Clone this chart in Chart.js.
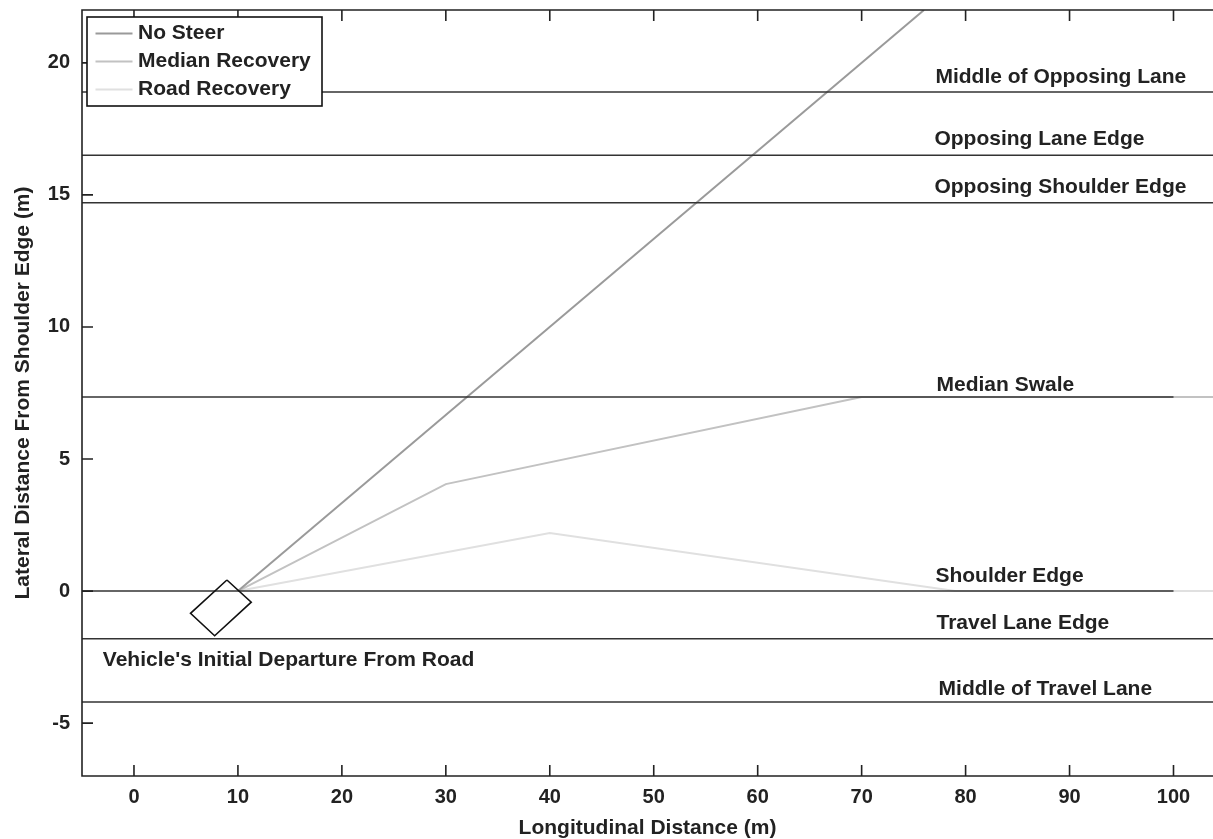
<!DOCTYPE html>
<html lang="en">
  <head>
    <meta charset="UTF-8" />
    <script src="https://cdn.jsdelivr.net/npm/chart.js"></script>
    <style>
      body {
        margin: 0;
        background: #fff;
      }
      #wrap {
        width: 1213px;
        height: 839px;
      }
    </style>
  </head>
  <body>
    <div id="wrap"><canvas id="roadChart" width="1213" height="839"></canvas></div>

    <script>
      // trajectories (m)
      const noSteerX = [10, 76];
      const noSteerY = [0, 22];
      const medianX = [10, 30, 70, 105];
      const medianY = [0, 4.05, 7.35, 7.35];
      const roadX = [10, 40, 79, 105];
      const roadY = [0, 2.2, 0, 0];

      // vehicle outline at departure
      const vehicleX = [8.94, 11.28, 7.76, 5.44, 8.94];
      const vehicleY = [0.42, -0.42, -1.69, -0.84, 0.42];

      // road reference lines
      const refNames = [
        "Middle of Opposing Lane",
        "Opposing Lane Edge",
        "Opposing Shoulder Edge",
        "Median Swale",
        "Shoulder Edge",
        "Travel Lane Edge",
        "Middle of Travel Lane",
      ];
      const refLevels = [18.9, 16.5, 14.7, 7.35, 0, -1.8, -4.2];
      const refEnds = [105, 105, 105, 100, 100, 105, 105];
      const refLabelX = [77.1, 77.0, 77.0, 77.2, 77.1, 77.2, 77.4];
      const refLabelY = [19.47, 17.12, 15.3, 7.8, 0.57, -1.21, -3.71];

      const noteText = "Vehicle's Initial Departure From Road";
      const noteX = -3.0;
      const noteY = -2.61;

      const xTicks = [0, 10, 20, 30, 40, 50, 60, 70, 80, 90, 100];
      const yTicks = [-5, 0, 5, 10, 15, 20];

      const FONT = "'Liberation Sans', Arial, Helvetica, sans-serif";
      const INK = "#222";

      const pts = (xs, ys) => xs.map((x, i) => ({ x: x, y: ys[i] }));

      const datasets = [];
      refLevels.forEach((lvl, i) => {
        datasets.push({
          label: refNames[i],
          data: [
            { x: -5, y: lvl },
            { x: refEnds[i], y: lvl },
          ],
          borderColor: "#333",
          borderWidth: 1.5,
          order: 1,
        });
      });
      datasets.push(
        {
          label: "No Steer",
          data: pts(noSteerX, noSteerY),
          borderColor: "#9a9a9a",
          borderWidth: 2,
          order: 2,
          legend: true,
        },
        {
          label: "Median Recovery",
          data: pts(medianX, medianY),
          borderColor: "#c2c2c2",
          borderWidth: 2,
          order: 2,
          legend: true,
        },
        {
          label: "Road Recovery",
          data: pts(roadX, roadY),
          borderColor: "#e0e0e0",
          borderWidth: 2,
          order: 2,
          legend: true,
        },
        {
          label: "Vehicle",
          data: pts(vehicleX, vehicleY),
          borderColor: "#111",
          borderWidth: 1.6,
          order: 0,
        }
      );
      datasets.forEach((d) => {
        d.showLine = true;
        d.pointRadius = 0;
        d.fill = false;
        d.tension = 0;
      });

      // box, inward ticks, labels and legend
      const decorations = {
        id: "decorations",
        afterDatasetsDraw(chart) {
          const { ctx, chartArea: a, scales } = chart;
          const xs = scales.x;
          const ys = scales.y;
          ctx.save();

          // labels on reference lines
          ctx.fillStyle = INK;
          ctx.font = "bold 21px " + FONT;
          ctx.textAlign = "left";
          ctx.textBaseline = "middle";
          refNames.forEach((n, i) => {
            ctx.fillText(n, xs.getPixelForValue(refLabelX[i]), ys.getPixelForValue(refLabelY[i]));
          });
          ctx.fillText(noteText, xs.getPixelForValue(noteX), ys.getPixelForValue(noteY));

          // axes
          ctx.strokeStyle = INK;
          ctx.lineWidth = 1.6;
          ctx.beginPath();
          ctx.moveTo(a.right, a.top);
          ctx.lineTo(a.left, a.top);
          ctx.lineTo(a.left, a.bottom);
          ctx.lineTo(a.right, a.bottom);
          ctx.stroke();

          const tl = 11;
          ctx.beginPath();
          xTicks.forEach((t) => {
            const px = xs.getPixelForValue(t);
            ctx.moveTo(px, a.bottom);
            ctx.lineTo(px, a.bottom - tl);
            ctx.moveTo(px, a.top);
            ctx.lineTo(px, a.top + tl);
          });
          yTicks.forEach((t) => {
            const py = ys.getPixelForValue(t);
            ctx.moveTo(a.left, py);
            ctx.lineTo(a.left + tl, py);
          });
          ctx.stroke();

          // legend
          const items = chart.data.datasets.filter((d) => d.legend);
          const bx = 87, by = 17, bw = 235, bh = 89;
          ctx.fillStyle = "#fff";
          ctx.fillRect(bx, by, bw, bh);
          ctx.strokeStyle = "#111";
          ctx.lineWidth = 1.6;
          ctx.strokeRect(bx, by, bw, bh);
          ctx.font = "bold 21px " + FONT;
          items.forEach((d, i) => {
            const cy = by + 16.5 + i * 28;
            ctx.strokeStyle = d.borderColor;
            ctx.lineWidth = d.borderWidth;
            ctx.beginPath();
            ctx.moveTo(bx + 8.5, cy);
            ctx.lineTo(bx + 45.5, cy);
            ctx.stroke();
            ctx.fillStyle = INK;
            ctx.fillText(d.label, bx + 51, cy);
          });
          ctx.restore();
        },
      };

      const ctx = document.getElementById("roadChart").getContext("2d");
      const roadChart = new Chart(ctx, {
        type: "scatter",
        data: { datasets: datasets },
        options: {
          responsive: false,
          animation: false,
          layout: { padding: { top: 10, right: 0, left: 0, bottom: 0 } },
          plugins: {
            legend: { display: false },
            tooltip: { enabled: false },
          },
          scales: {
            x: {
              type: "linear",
              min: -5,
              max: 103.8,
              afterBuildTicks: (s) => {
                s.ticks = xTicks.map((v) => ({ value: v }));
              },
              afterFit: (s) => {
                s.height = 63;
                s.paddingLeft = 0;
                s.paddingRight = 0;
              },
              grid: { display: false, drawTicks: false },
              border: { display: false },
              ticks: {
                color: INK,
                padding: 9,
                maxRotation: 0,
                autoSkip: false,
                font: { family: FONT, size: 20, weight: "bold" },
              },
              title: {
                display: true,
                text: "Longitudinal Distance (m)",
                color: INK,
                padding: 0,
                font: { family: FONT, size: 21, weight: "bold", lineHeight: 1 },
              },
            },
            y: {
              type: "linear",
              min: -7,
              max: 22,
              afterBuildTicks: (s) => {
                s.ticks = yTicks.map((v) => ({ value: v }));
              },
              afterFit: (s) => {
                s.width = 82;
                s.paddingTop = 0;
                s.paddingBottom = 0;
              },
              grid: { display: false, drawTicks: false },
              border: { display: false },
              ticks: {
                color: INK,
                padding: 12,
                autoSkip: false,
                font: { family: FONT, size: 20, weight: "bold" },
              },
              title: {
                display: true,
                text: "Lateral Distance From Shoulder Edge (m)",
                color: INK,
                padding: { top: 13, bottom: 0 },
                font: { family: FONT, size: 21, weight: "bold", lineHeight: 1 },
              },
            },
          },
        },
        plugins: [decorations],
      });
    </script>
  </body>
</html>
